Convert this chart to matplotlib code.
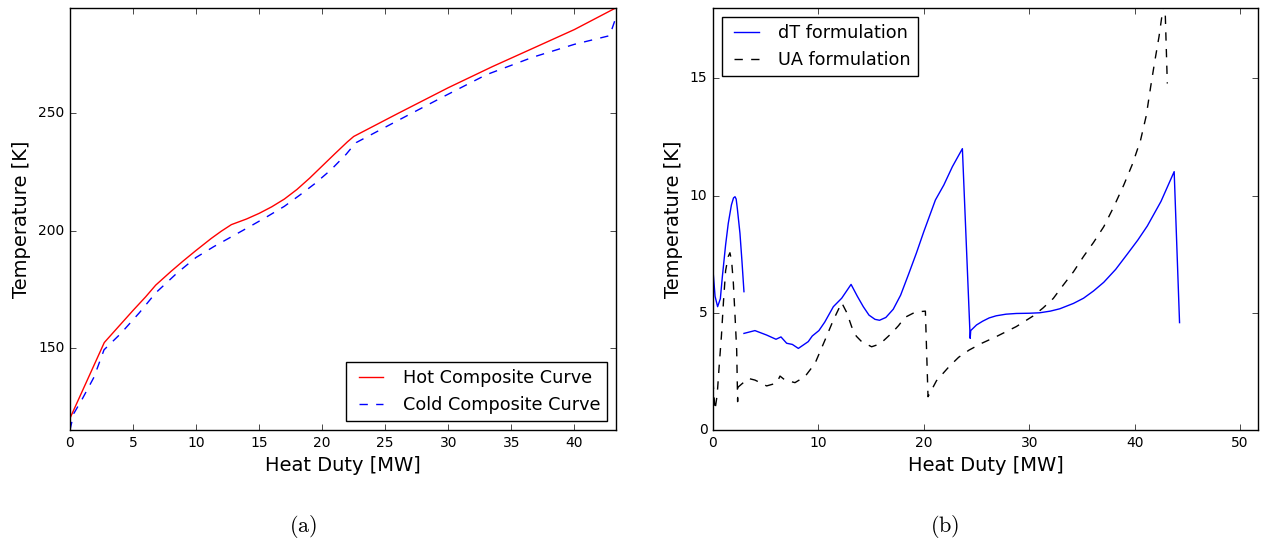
import numpy as np
import matplotlib
matplotlib.use('Agg')
import matplotlib.pyplot as plt

plt.style.use('classic')
plt.rcParams['figure.facecolor'] = 'white'
plt.rcParams['savefig.facecolor'] = 'white'
plt.rcParams['mathtext.fontset'] = 'cm'

# (a) composite curves
hot_q = [0, 2.72, 4.0, 5.0, 6.0, 6.8, 8.0, 9.0, 10.0, 11.2, 12.0, 12.8, 14.0, 15.0,
         16.0, 17.0, 18.0, 19.0, 20.0, 21.0, 22.0, 22.5, 26, 30, 33.5, 37, 40, 43.2]
hot_T = [120, 152.3, 160, 166, 171.8, 176.8, 182.6, 187.2, 191.6, 196.7, 199.8, 202.6,
         205, 207.4, 210.2, 213.5, 217.6, 222.4, 227.6, 232.8, 237.9, 240.2, 250, 261,
         270, 278.5, 285.8, 294.8]

cold_q = [0, 0.3, 1.0, 1.9, 2.7, 4.0, 5.5, 6.8, 8.5, 10.0, 11.4, 12.8, 14.2, 15.6,
          17.0, 18.2, 19.4, 20.7, 21.9, 22.5, 22.7, 26, 29.8, 33, 36.7, 40, 42.8, 43.2]
cold_T = [115, 122, 128.5, 137.5, 149.2, 156, 165, 173.5, 182, 188.6, 193.2, 197.4,
          201.6, 205.9, 210.4, 215.1, 220, 226, 232.6, 236.5, 237.6, 247, 257.7, 266.5,
          274, 279.5, 283.2, 289.5]

# (b) temperature difference along the exchanger (NaN = break in the line)
dt_q = [0, 0.2, 0.44, 0.7, 0.89, 1.2, 1.45, 1.75, 1.95, 2.09, 2.2, 2.31, 2.56, 2.75,
        2.94,
        np.nan,
        2.94, 3.98, 5.09, 5.98, 6.45, 6.99, 7.53, 8.1, 9.04, 9.42, 10.05, 10.6, 11.42,
        12.21, 13.1, 13.7, 14.26, 14.8, 15.37, 15.8, 16.4, 17.1, 17.8, 18.56, 19.3,
        20.0, 21.1, 21.9, 22.71, 23.66, 24.4, 24.45, 25.0, 25.58, 26.2, 26.86, 27.8,
        28.77, 30.0, 31.0, 32.0, 32.9, 34.2, 35.15, 36.1, 37.07, 38.2, 39.3, 40.3,
        41.2, 42.5, 43.75, 44.26]
dt_T = [6.82, 5.7, 5.26, 5.6, 6.54, 7.9, 8.81, 9.6, 9.9, 9.95, 9.85, 9.45, 8.39, 7.2,
        5.9,
        np.nan,
        4.12, 4.24, 4.05, 3.87, 3.97, 3.70, 3.65, 3.48, 3.77, 4.01, 4.24, 4.6, 5.26,
        5.62, 6.21, 5.7, 5.26, 4.9, 4.72, 4.68, 4.8, 5.15, 5.75, 6.65, 7.55,
        8.46, 9.81, 10.45, 11.23, 12.0, 3.91, 4.24, 4.48, 4.64, 4.78, 4.87, 4.94,
        4.97, 4.98, 5.0, 5.07, 5.17, 5.4, 5.62, 5.93, 6.3, 6.85, 7.5, 8.1,
        8.7, 9.75, 11.02, 4.58]

ua_q = [0, 0.19, 0.4, 0.6, 0.8, 1.0, 1.2, 1.45, 1.61, 1.77, 1.93, 2.1, 2.25, 2.34,
        2.36, 3.35, 3.98, 5.09, 6.04, 6.36, 6.83, 7.78, 8.73, 9.68, 10.63, 11.42,
        12.21, 12.7, 13.16, 13.6, 14.1, 15.05, 15.84, 16.4, 16.95, 17.6, 18.2, 19.2,
        20.15, 20.4, 21.2, 22.39, 23.3, 24.3, 25.5, 26.86, 28.77, 30.36, 31.3, 32.28,
        33.26, 34.2, 35.15, 36.1, 37.07, 38.0, 38.97, 39.8, 40.56, 41.1, 41.52, 41.9,
        42.31, 42.6, 42.85, 43.1]
ua_T = [2.1, 0.85, 1.5, 2.8, 4.0, 5.5, 6.8, 7.4, 7.56, 7.2, 6.3, 4.8, 3.4, 1.21,
        1.82, 2.2, 2.13, 1.88, 2.0, 2.3, 2.13, 2.02, 2.28, 2.84, 3.84, 4.69,
        5.43, 5.0, 4.4, 4.0, 3.77, 3.55, 3.67, 3.9, 4.13, 4.45, 4.8, 5.03,
        5.07, 1.42, 2.1, 2.70, 3.1, 3.41, 3.7, 3.98, 4.41, 4.86, 5.2, 5.61,
        6.2, 6.75, 7.4, 8.0, 8.67, 9.5, 10.45, 11.35, 12.36, 13.4, 14.64, 15.7,
        16.77, 17.7, 18.6, 14.78]

fig = plt.figure(figsize=(12.61, 5.47), dpi=100)
ax1 = fig.add_axes([0.0555, 0.2139, 0.433, 0.7715])
ax2 = fig.add_axes([0.5654, 0.2139, 0.4322, 0.7715])

ax1.plot(hot_q, hot_T, 'r-', label='Hot Composite Curve')
ax1.plot(cold_q, cold_T, 'b--', label='Cold Composite Curve')
ax1.set_xlim(0, 43.3)
ax1.set_ylim(115, 295)
ax1.set_xticks(range(0, 45, 5))
ax1.set_yticks([150, 200, 250])
ax1.set_xlabel('Heat Duty [MW]', fontsize=14)
ax1.set_ylabel('Temperature [K]', fontsize=14)
ax1.legend(loc='lower right', fontsize=12.7)

ax2.plot(dt_q, dt_T, 'b-', label='dT formulation')
ax2.plot(ua_q, ua_T, 'k--', label='UA formulation')
ax2.set_xlim(0, 51.7)
ax2.set_ylim(0, 18)
ax2.set_xticks(range(0, 60, 10))
ax2.set_yticks([0, 5, 10, 15])
ax2.set_xlabel('Heat Duty [MW]', fontsize=14)
ax2.set_ylabel('Temperature [K]', fontsize=14)
ax2.legend(loc='upper left', fontsize=12.7)

for ax in (ax1, ax2):
    ax.tick_params(labelsize=10)

fig.text(0.240, 0.037, r'$\mathrm{(a)}$', ha='center', va='center', fontsize=16)
fig.text(0.749, 0.037, r'$\mathrm{(b)}$', ha='center', va='center', fontsize=16)

fig.savefig('out.png', dpi=100)
